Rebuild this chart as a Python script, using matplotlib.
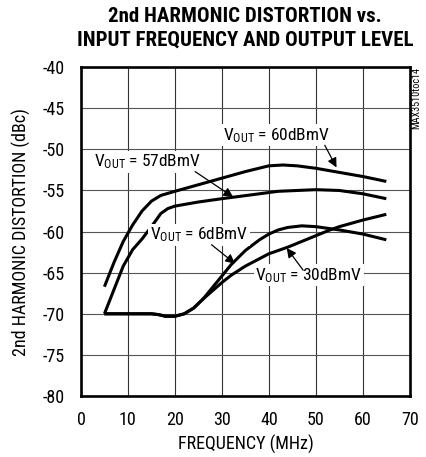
import matplotlib.pyplot as plt
import numpy as np

f_60 = [5, 7, 9, 11, 13, 15, 17, 20, 25, 30, 35, 40, 43, 46, 50, 55, 60, 65]
hd_60 = [-66.7, -63.8, -61.2, -59.2, -57.5, -56.3, -55.6, -55.1, -54.3, -53.5,
         -52.7, -52.0, -51.9, -52.0, -52.3, -52.8, -53.3, -53.9]

f_57 = [5, 7, 9, 11, 13, 15, 16, 17, 18.5, 20, 25, 30, 38, 42, 50, 55, 60, 65]
hd_57 = [-70.0, -67.1, -64.2, -62.2, -60.9, -59.4, -58.6, -57.8, -57.2, -56.9,
         -56.4, -56.0, -55.4, -55.1, -54.9, -55.0, -55.4, -56.0]

f_6 = [5, 15, 16.5, 18, 20, 22, 24, 26, 28, 30, 32, 35, 38, 40, 42, 44, 47, 50, 55, 60, 65]
hd_6 = [-70.0, -70.0, -70.1, -70.3, -70.3, -70.0, -69.3, -68.2, -66.8, -65.4, -64.0,
        -62.3, -61.0, -60.3, -59.8, -59.5, -59.3, -59.4, -59.8, -60.3, -61.0]

f_30 = [5, 15, 16.5, 18, 20, 22, 24, 26, 28, 30, 32, 35, 38, 40, 44, 47, 50, 53, 55, 60, 65]
hd_30 = [-70.0, -70.0, -70.1, -70.3, -70.3, -70.0, -69.3, -68.2, -67.2, -66.2, -65.3,
         -64.2, -63.3, -62.7, -61.9, -61.2, -60.5, -59.8, -59.4, -58.6, -57.9]

xticks = [0, 10, 20, 30, 40, 50, 60, 70]
yticks = [-80, -75, -70, -65, -60, -55, -50, -45, -40]

plt.rcParams['font.family'] = ['Roboto Condensed', 'Archivo Narrow', 'DejaVu Sans']
plt.rcParams['mathtext.default'] = 'regular'
plt.rcParams['axes.unicode_minus'] = False

fig = plt.figure(figsize=(4.26, 4.57), dpi=100)
ax = fig.add_axes([0.190, 0.1335, 0.772, 0.7195])

for x in xticks:
    ax.axvline(x, color='#333333', lw=0.8, zorder=1)
for y in yticks:
    ax.axhline(y, color='#555555', lw=0.8, zorder=1)

for f, hd in [(f_60, hd_60), (f_57, hd_57), (f_6, hd_6), (f_30, hd_30)]:
    ax.plot(f, hd, color='black', lw=2.2, solid_capstyle='butt', zorder=3)

ax.set_xlim(0, 70)
ax.set_ylim(-80, -40)
ax.set_xticks(xticks)
ax.set_yticks(yticks)
ax.tick_params(length=0, labelsize=13)
ax.tick_params(axis='y', pad=12)
ax.tick_params(axis='x', pad=11)
for s in ax.spines.values():
    s.set_linewidth(1.9)

box = dict(boxstyle='square,pad=0.1', fc='white', ec='none')
arw = dict(arrowstyle='-|>', color='black', lw=0.9, mutation_scale=14, shrinkA=0, shrinkB=0)

labels = [('60', (41.6, -48.3), (51.9, -49.5), (54.4, -52.2)),
          ('57', (14.1, -51.5), (24.3, -52.7), (32.4, -55.8)),
          ('6', (25.1, -60.4), (27.8, -61.6), (32.8, -63.9)),
          ('30', (48.5, -65.3), (47.3, -64.7), (43.8, -62.0))]
for lev, txy, a0, a1 in labels:
    ax.text(txy[0], txy[1], '$V_{OUT}$ = ' + lev + 'dBmV', fontsize=12.5,
            ha='center', va='center', bbox=box, zorder=4)
    ax.annotate('', xy=a1, xytext=a0, arrowprops=arw, zorder=5)

ax.set_xlabel('FREQUENCY (MHz)', fontsize=13, labelpad=4)
ax.set_ylabel('2nd HARMONIC DISTORTION (dBc)', fontsize=13, labelpad=8)
fig.text(0.575, 0.985, '2nd HARMONIC DISTORTION vs.\nINPUT FREQUENCY AND OUTPUT LEVEL',
         ha='center', va='top', fontsize=15, fontweight='bold', linespacing=1.3,
         family=['Roboto Condensed', 'Barlow Condensed', 'DejaVu Sans'])
fig.text(0.978, 0.853, 'MAX3510toc14', rotation=90, ha='center', va='top', fontsize=7.3)

plt.savefig('out.png', dpi=100)
plt.close()
